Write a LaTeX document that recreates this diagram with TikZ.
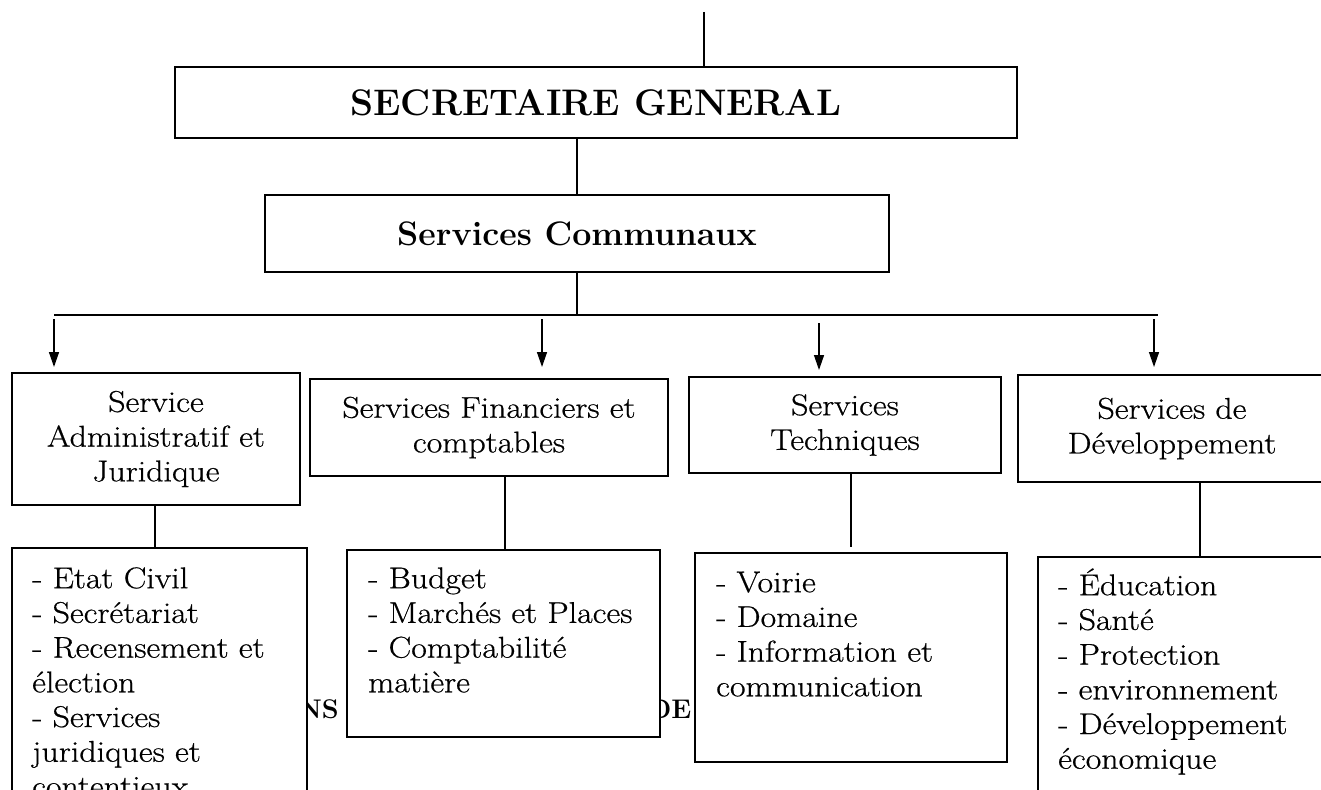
\documentclass[tikz,border=0pt]{standalone}
\usepackage{fontspec}
\setmainfont{Latin Modern Roman}[UprightFeatures={FakeStretch=1.13, FakeBold=0.6}]
\usetikzlibrary{arrows.meta}
\newcommand{\fl}{\rule{0pt}{30pt}}
\tikzset{
  txt/.style={font=\fontsize{30}{34.7}\selectfont},
  box/.style={draw, line width=1.4pt, fill=white, inner sep=0pt, align=center, txt},
  list/.style={inner sep=0pt, anchor=north west, align=left, txt},
  hid/.style={inner sep=0pt, font=\fontsize{27}{32}\selectfont\bfseries},
  conn/.style={line width=1.4pt},
  arr/.style={line width=1.4pt, -{Triangle[length=15pt,width=10pt]}},
}
\begin{document}
\begin{tikzpicture}[x=1pt,y=-1pt]
\useasboundingbox (0,0) rectangle (1321,789);
\clip (0,0) rectangle (1321,789);

% partly hidden heading behind the boxes
\node[hid, anchor=base west] (hns) at (298,718) {NS};
\node[hid, anchor=base west] (hde) at (648,718) {DE};

% top boxes
\node[box, minimum width=842pt, minimum height=71pt, font=\fontsize{37}{42}\selectfont\bfseries] (sg) at (596,102.5) {SECRETAIRE GENERAL};
\node[box, minimum width=624pt, minimum height=77pt, font=\fontsize{34}{40}\selectfont\bfseries] (sc) at (577,233.5) {Services Communaux};

% service boxes
\node[box, minimum width=288pt, minimum height=132pt] (b1) at (156,439) {Service\\Administratif et\\Juridique};
\node[box, minimum width=358pt, minimum height=97pt] (b2) at (489,427.5) {Services Financiers et\\comptables};
\node[box, minimum width=312pt, minimum height=96pt] (b3) at (845,425) {Services\\Techniques};
\node[box, minimum width=308pt, minimum height=107pt] (b4) at (1172,428.5) {Services de\\Développement};

% sub boxes
\node[box, minimum width=295pt, minimum height=272pt] (s1) at (159.5,684) {};
\node[box, minimum width=313pt, minimum height=187pt] (s2) at (503.5,643.5) {};
\node[box, minimum width=312pt, minimum height=209pt] (s3) at (851,657.5) {};
\node[box, minimum width=302pt, minimum height=263pt] (s4) at (1189,688.5) {};

\node[list] (t1) at (32,558) {\fl- Etat Civil\\- Secrétariat\\- Recensement et\\élection\\- Services\\juridiques et\\contentieux};
\node[list] (t2) at (368,558) {\fl- Budget\\- Marchés et Places\\- Comptabilité\\matière};
\node[list] (t3) at (716,562) {\fl- Voirie\\- Domaine\\- Information et\\communication};
\node[list] (t4) at (1058,565) {\fl- Éducation\\- Santé\\- Protection\\- environnement\\- Développement\\économique};

% connectors at the top
\coordinate (top) at (704,12);
\draw[conn] (top) -- (top |- sg.north);
\draw[conn] (sg.south -| sc.north) -- (sc.north);
\coordinate (barL) at (54,315);
\coordinate (barR) at (1158,315);
\draw[conn] (sc.south) -- (sc.south |- barL);
\draw[conn] (barL) -- (barR);

% arrows
\coordinate (a1s) at (54,319);   \coordinate (a1e) at (54,367);
\coordinate (a2s) at (542,319);  \coordinate (a2e) at (542,367);
\coordinate (a3s) at (819,323);  \coordinate (a3e) at (819,370);
\coordinate (a4s) at (1154,319); \coordinate (a4e) at (1154,367);
\draw[arr] (a1s) -- (a1e);
\draw[arr] (a2s) -- (a2e);
\draw[arr] (a3s) -- (a3e);
\draw[arr] (a4s) -- (a4e);

% service to sub-box connectors
\coordinate (x1) at (155,0);
\coordinate (x2) at (505,0);
\coordinate (x3) at (851,0);
\coordinate (x4) at (1200,0);
\draw[conn] (b1.south -| x1) -- (s1.north -| x1);
\draw[conn] (b2.south -| x2) -- (s2.north -| x2);
\draw[conn] (b3.south -| x3) -- ([yshift=5pt]s3.north);
\draw[conn] (b4.south -| x4) -- (s4.north -| x4);
\end{tikzpicture}
\end{document}
